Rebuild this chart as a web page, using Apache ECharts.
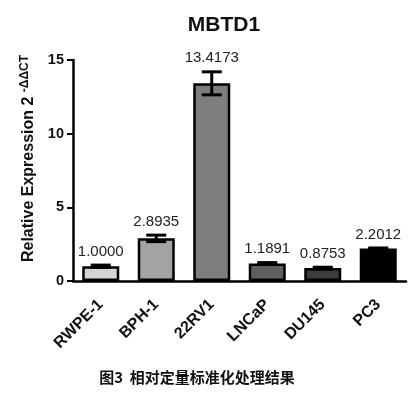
<!DOCTYPE html>
<html><head><meta charset="utf-8">
<script src="https://cdn.jsdelivr.net/npm/echarts@6/dist/echarts.min.js"></script>
<style>html,body{margin:0;padding:0;background:#fff}#c{width:412px;height:395px}</style>
</head><body><div id="c"></div>
<script>
const categories = ['RWPE-1', 'BPH-1', '22RV1', 'LNCaP', 'DU145', 'PC3'];
const values = [1.0000, 2.8935, 13.4173, 1.1891, 0.8753, 2.2012];
const errors = [0.08, 0.22, 0.78, 0.06, 0.06, 0.04];
const yTicks = [0, 5, 10, 15];
const titleText = 'MBTD1';
const captionText = '图3  相对定量标准化处理结果';

const barColors = ['#d4d4d4', '#a3a3a3', '#7e7e7e', '#5f5f5f', '#3c3c3c', '#000000'];
const FONT = '"Liberation Sans", Arial, Helvetica, sans-serif';

const chart = echarts.init(document.getElementById('c'), null, {renderer: 'canvas'});
chart.setOption({
  animation: false,
  backgroundColor: '#fff',
  grid: {left: 73, right: 6, top: 60, bottom: 114},
  graphic: [
    {type: 'text', x: 224, y: 25, style: {text: titleText, font: 'bold 21px ' + FONT, fill: '#111', textAlign: 'center', textVerticalAlign: 'middle'}},
    {type: 'text', x: 197, y: 377, style: {text: captionText, font: 'bold 15px "Noto Sans CJK SC", sans-serif', fill: '#111', textAlign: 'center', textVerticalAlign: 'middle'}}
  ],
  xAxis: {
    type: 'category',
    data: categories,
    axisLine: {lineStyle: {color: '#000', width: 2.5}},
    axisTick: {alignWithLabel: true, length: 6, lineStyle: {color: '#000', width: 2}},
    axisLabel: {rotate: 45, margin: 21, color: '#111', fontWeight: 'bold', fontSize: 16, fontFamily: FONT, interval: 0}
  },
  yAxis: {
    type: 'value',
    min: yTicks[0], max: yTicks[yTicks.length - 1], interval: 5,
    splitLine: {show: false},
    axisLine: {show: true, lineStyle: {color: '#000', width: 2.5}},
    axisTick: {show: true, length: 6, lineStyle: {color: '#000', width: 2}},
    axisLabel: {margin: 9, color: '#111', fontWeight: 'bold', fontSize: 14.5, fontFamily: FONT},
    name: '{a|Relative Expression 2 }{b|-ΔΔCT}',
    nameLocation: 'middle',
    nameRotate: 90,
    nameGap: 25,
    nameTextStyle: {
      padding: [0, 0, 0, 24],
      rich: {
        a: {fontSize: 16, fontWeight: 'bold', fontFamily: FONT, color: '#111', lineHeight: 20},
        b: {fontSize: 12, fontWeight: 'bold', fontFamily: FONT, color: '#111', lineHeight: 12, verticalAlign: 'top'}
      }
    }
  },
  series: [
    {
      type: 'bar',
      barWidth: 37,
      data: values.map((v, i) => ({value: v, itemStyle: {color: barColors[i]}})),
      itemStyle: {borderColor: '#000', borderWidth: 2.5}
    },
    {
      type: 'custom',
      data: values.map((v, i) => [i, v, errors[i]]),
      z: 10,
      renderItem: function (params, api) {
        const x = api.value(0), v = api.value(1), e = api.value(2);
        const top = api.coord([x, v + e]);
        const bot = api.coord([x, v - e]);
        const hw = 10;
        const st = {stroke: '#000', lineWidth: 3};
        return {type: 'group', children: [
          {type: 'line', shape: {x1: top[0], y1: top[1], x2: bot[0], y2: bot[1]}, style: st},
          {type: 'line', shape: {x1: top[0] - hw, y1: top[1], x2: top[0] + hw, y2: top[1]}, style: st},
          {type: 'line', shape: {x1: bot[0] - hw, y1: bot[1], x2: bot[0] + hw, y2: bot[1]}, style: st},
          {type: 'text', x: top[0], y: top[1] - 6, style: {text: v.toFixed(4), font: '15px ' + FONT, fill: '#222', textAlign: 'center', textVerticalAlign: 'bottom'}}
        ]};
      }
    }
  ]
});
</script></body></html>
